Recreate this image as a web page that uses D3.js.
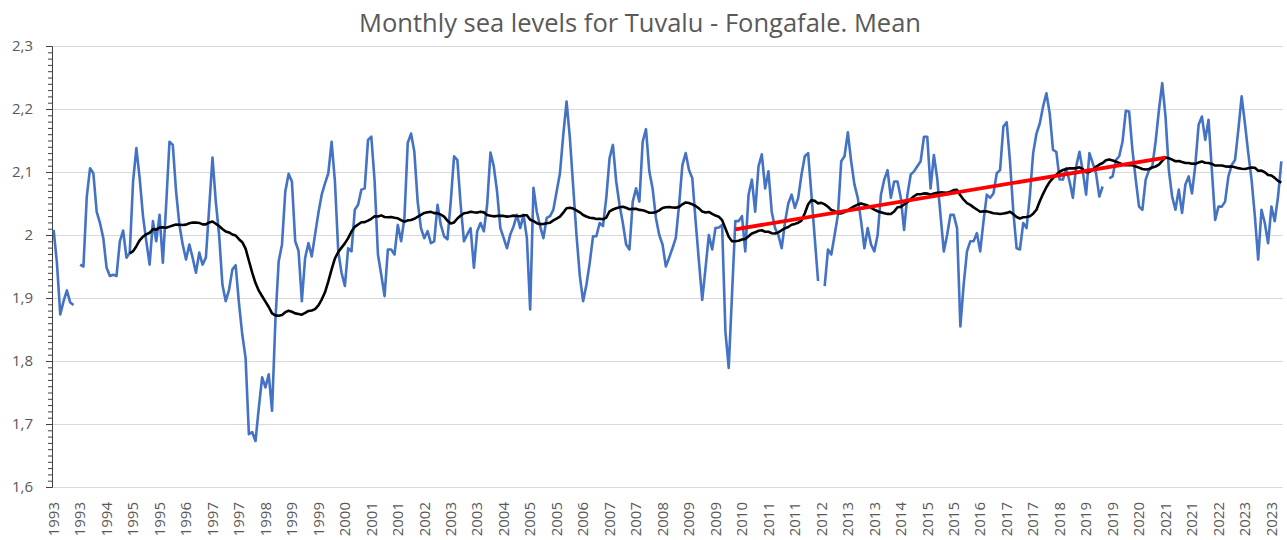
<!DOCTYPE html>
<html>
<head>
<meta charset="utf-8">
<script src="https://cdn.jsdelivr.net/npm/d3@7"></script>
<style>
  body { margin: 0; background: #fff; }
  text { font-family: "Open Sans", sans-serif; fill: #595959; }
</style>
</head>
<body>
<div id="chart"></div>
<script>
// monthly mean sea level (m), one row per 12 months, null = missing month
const seaLevel = [
  2.008,1.955,1.874,1.895,1.912,1.893,1.889,null,1.953,1.950,2.060,2.106,
  2.098,2.037,2.019,1.995,1.948,1.935,1.937,1.935,1.990,2.007,1.964,1.972,
  2.085,2.138,2.090,2.030,1.990,1.953,2.022,1.990,2.032,1.956,2.048,2.148,
  2.143,2.069,2.016,1.985,1.961,1.985,1.964,1.940,1.972,1.953,1.964,2.043,
  2.123,2.053,2.000,1.921,1.895,1.913,1.945,1.952,1.892,1.842,1.805,1.684,
  1.687,1.673,1.726,1.774,1.758,1.779,1.721,1.863,1.958,1.985,2.069,2.097,
  2.085,1.990,1.975,1.895,1.964,1.987,1.966,2.001,2.035,2.064,2.082,2.098,
  2.148,2.085,1.974,1.940,1.919,1.979,1.974,2.040,2.048,2.072,2.074,2.151,
  2.156,2.085,1.969,1.937,1.903,1.977,1.977,1.969,2.016,1.990,2.027,2.146,
  2.161,2.132,2.053,2.011,1.995,2.006,1.987,1.990,2.048,2.016,1.998,1.993,
  2.053,2.125,2.119,2.048,1.990,2.001,2.011,1.948,2.006,2.019,2.006,2.048,
  2.131,2.109,2.069,2.011,1.995,1.979,2.001,2.014,2.032,2.011,2.032,1.995,
  1.882,2.075,2.037,2.014,1.995,2.027,2.030,2.040,2.069,2.098,2.159,2.212,
  2.154,2.077,2.000,1.935,1.895,1.921,1.956,1.998,1.998,2.019,2.014,2.059,
  2.122,2.143,2.085,2.048,2.019,1.985,1.977,2.053,2.074,2.053,2.148,2.168,
  2.101,2.074,2.027,2.000,1.985,1.950,1.964,1.979,1.995,2.048,2.111,2.130,
  2.103,2.090,2.022,1.958,1.897,1.948,2.000,1.977,2.011,2.012,2.016,1.847,
  1.789,1.906,2.022,2.022,2.030,1.974,2.064,2.088,2.037,2.109,2.128,2.074,
  2.101,2.037,2.011,2.000,1.979,2.020,2.050,2.064,2.043,2.059,2.096,2.125,
  2.130,2.064,1.995,1.927,null,1.919,1.977,1.969,2.000,2.032,2.117,2.125,
  2.163,2.117,2.080,2.059,2.022,1.979,2.011,1.985,1.974,2.000,2.064,2.088,
  2.103,2.059,2.085,2.085,2.059,2.008,2.064,2.096,2.101,2.109,2.117,2.156,
  2.156,2.074,2.127,2.090,2.032,1.974,2.000,2.032,2.032,2.011,1.855,1.921,
  1.974,1.990,1.990,2.003,1.974,2.022,2.064,2.059,2.066,2.098,2.103,2.172,
  2.179,2.117,2.037,1.979,1.977,2.019,2.011,2.062,2.130,2.161,2.177,2.204,
  2.225,2.193,2.135,2.132,2.088,2.088,2.106,2.085,2.059,2.109,2.132,2.101,
  2.064,2.130,2.114,2.098,2.061,2.077,null,2.090,2.093,2.119,2.125,2.148,
  2.197,2.196,2.135,2.088,2.045,2.040,2.088,2.103,2.109,2.148,2.198,2.241,
  2.188,2.103,2.061,2.040,2.072,2.035,2.080,2.093,2.066,2.111,2.175,2.188,
  2.151,2.183,2.103,2.024,2.045,2.045,2.053,2.093,2.111,2.119,2.167,2.220,
  2.177,2.130,2.088,2.030,1.961,2.040,2.019,1.987,2.045,2.022,2.061,2.117
];

// category axis labels, one every 8 months
const tickLabels = ["1993","1993","1994","1995","1995","1996","1997","1997","1998","1999",
  "1999","2000","2001","2001","2002","2003","2003","2004","2005","2005","2006","2007",
  "2007","2008","2009","2009","2010","2011","2011","2012","2013","2013","2014","2015",
  "2015","2016","2017","2017","2018","2019","2019","2020","2021","2021","2022","2023","2023"];
const labelEvery = 8;

const yTicks = [1.6, 1.7, 1.8, 1.9, 2.0, 2.1, 2.2, 2.3];

// trendlines: moving average period and the red linear trend (month index, value)
const maPeriod = 24;
const trendMonths = [206, 336];
const trendValues = [2.009, 2.123];

const width = 1287;
const height = 540;
const margin = {top: 46, right: 4, bottom: 53, left: 52};

const svg = d3.select("#chart")
    .append("svg")
    .attr("width", width)
    .attr("height", height);

const x = d3.scaleBand()
    .domain(d3.range(seaLevel.length))
    .range([margin.left, width - margin.right]);
const cx = i => x(i) + x.bandwidth() / 2;

const y = d3.scaleLinear()
    .domain([1.6, 2.3])
    .range([height - margin.bottom, margin.top]);

// title
svg.append("text")
    .attr("x", 640)
    .attr("y", 32)
    .attr("text-anchor", "middle")
    .style("font-size", "25.5px")
    .text("Monthly sea levels for Tuvalu - Fongafale. Mean");

// gridlines
svg.append("g")
    .selectAll("line")
    .data(yTicks)
    .join("line")
    .attr("x1", margin.left)
    .attr("x2", width - margin.right)
    .attr("y1", d => Math.round(y(d)) + 0.5)
    .attr("y2", d => Math.round(y(d)) + 0.5)
    .attr("stroke", "#d9d9d9")
    .attr("stroke-width", 1);

// y axis with minor ticks every 0.01
const fmt = d => String(+d.toFixed(1)).replace(".", ",");
const minor = d3.range(160, 231).map(d => d / 100);

svg.append("g")
    .attr("transform", `translate(${margin.left},0)`)
    .call(d3.axisLeft(y).tickValues(minor).tickSize(4).tickFormat(""))
    .call(g => g.selectAll("line, path").attr("stroke", "#404040"));

svg.append("g")
    .attr("transform", `translate(${margin.left},0)`)
    .call(d3.axisLeft(y).tickValues(yTicks).tickSize(6).tickPadding(13).tickFormat(fmt))
    .call(g => g.select(".domain").remove())
    .call(g => g.selectAll("line").attr("stroke", "#404040"))
    .call(g => g.selectAll("text")
        .style("font-size", "15px")
        .style("font-family", '"Open Sans", sans-serif')
        .attr("fill", "#595959"));

// x labels, rotated
svg.append("g")
    .selectAll("text")
    .data(tickLabels)
    .join("text")
    .attr("transform", (d, k) => `translate(${cx(k * labelEvery)},502) rotate(-90)`)
    .attr("text-anchor", "end")
    .attr("dy", "0.35em")
    .style("font-size", "15px")
    .text(d => d);

// monthly series
const line = d3.line()
    .defined(d => d[1] != null)
    .x(d => cx(d[0]))
    .y(d => y(d[1]));

svg.append("path")
    .datum(seaLevel.map((v, i) => [i, v]))
    .attr("d", line)
    .attr("fill", "none")
    .attr("stroke", "#4472c4")
    .attr("stroke-width", 2.6)
    .attr("stroke-linejoin", "round");

// 24 month moving average trendline (as the spreadsheet computes it)
const movingAvg = seaLevel.map((v, i) => {
    if (i < maPeriod - 1) return [i, null];
    const win = seaLevel.slice(i - maPeriod + 1, i + 1).filter(d => d != null);
    return [i, d3.mean(win)];
});

svg.append("path")
    .datum(movingAvg)
    .attr("d", line)
    .attr("fill", "none")
    .attr("stroke", "#000")
    .attr("stroke-width", 2.6)
    .attr("stroke-linejoin", "round");

// red linear trend
svg.append("path")
    .datum(trendMonths.map((m, k) => [m, trendValues[k]]))
    .attr("d", line)
    .attr("fill", "none")
    .attr("stroke", "#ff0000")
    .attr("stroke-width", 3.8);
</script>
</body>
</html>
